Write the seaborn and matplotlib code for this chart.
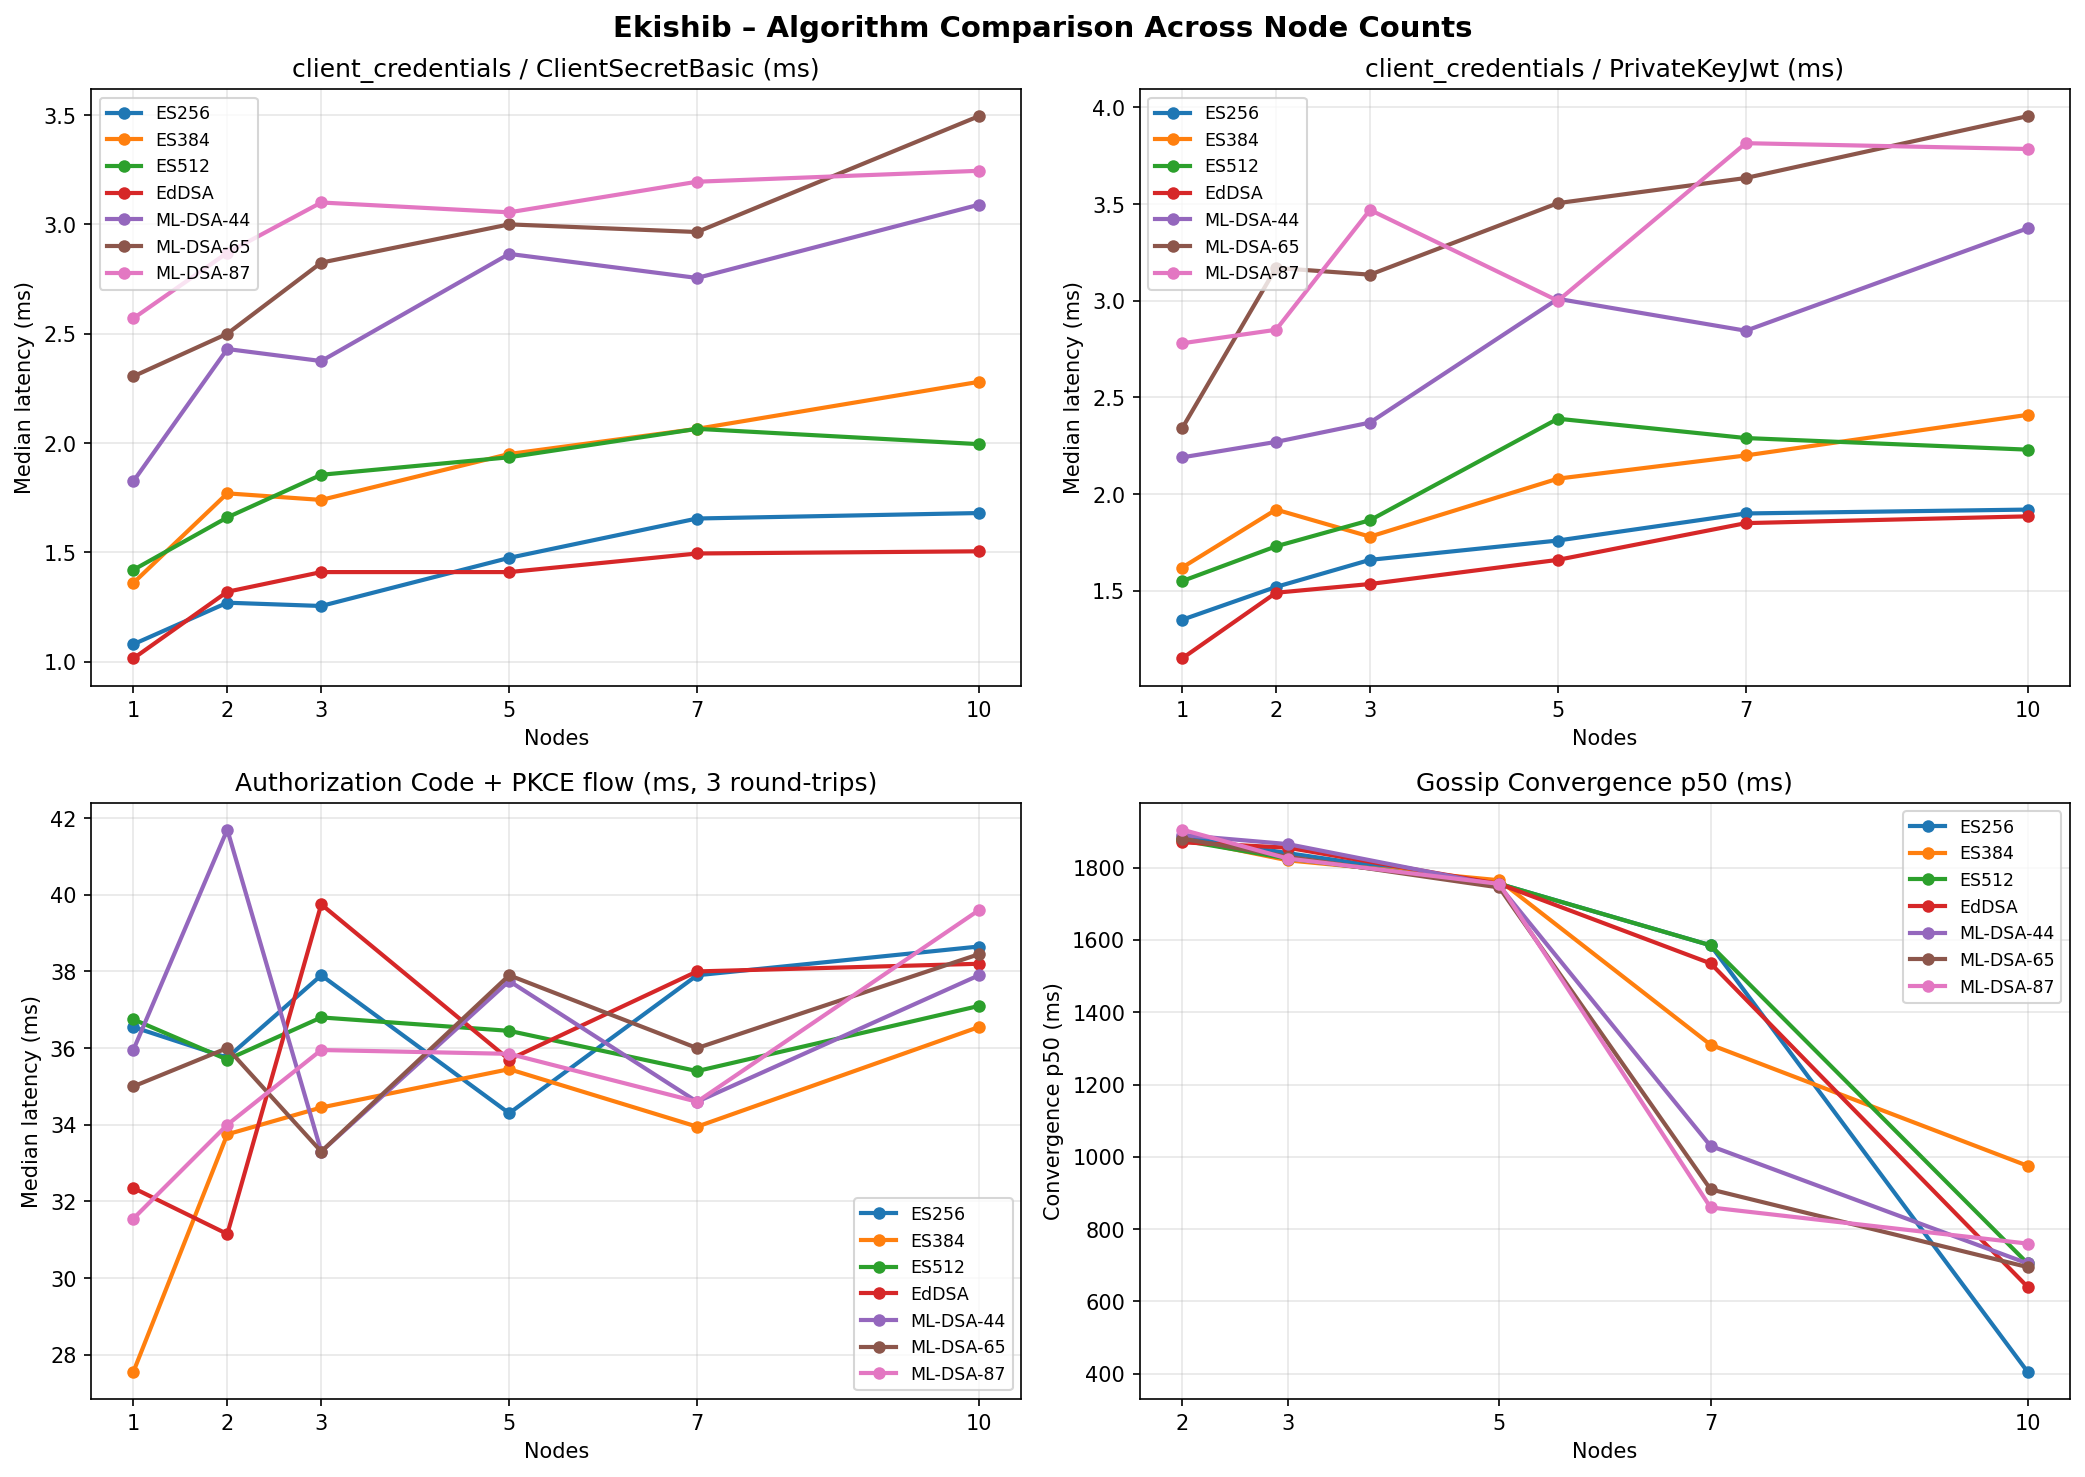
import matplotlib
matplotlib.use("Agg")
import matplotlib.pyplot as plt
import pandas as pd
import seaborn as sns

# 算法与节点数
algorithms = ["ES256", "ES384", "ES512", "EdDSA", "ML-DSA-44", "ML-DSA-65", "ML-DSA-87"]
nodes = [1, 2, 3, 5, 7, 10]
gossip_nodes = [2, 3, 5, 7, 10]

# client_credentials / ClientSecretBasic
csb_values = {
    "ES256": [1.08, 1.27, 1.255, 1.475, 1.655, 1.68],
    "ES384": [1.36, 1.77, 1.74, 1.95, 2.065, 2.28],
    "ES512": [1.42, 1.66, 1.855, 1.935, 2.065, 1.995],
    "EdDSA": [1.015, 1.32, 1.41, 1.41, 1.495, 1.505],
    "ML-DSA-44": [1.825, 2.43, 2.375, 2.865, 2.755, 3.09],
    "ML-DSA-65": [2.305, 2.50, 2.825, 3.00, 2.965, 3.495],
    "ML-DSA-87": [2.57, 2.87, 3.10, 3.055, 3.195, 3.245],
}

# client_credentials / PrivateKeyJwt
pkj_values = {
    "ES256": [1.35, 1.52, 1.66, 1.76, 1.90, 1.92],
    "ES384": [1.62, 1.92, 1.78, 2.08, 2.20, 2.41],
    "ES512": [1.55, 1.73, 1.865, 2.39, 2.29, 2.23],
    "EdDSA": [1.15, 1.49, 1.535, 1.66, 1.85, 1.885],
    "ML-DSA-44": [2.19, 2.27, 2.37, 3.01, 2.845, 3.375],
    "ML-DSA-65": [2.34, 3.17, 3.135, 3.505, 3.635, 3.955],
    "ML-DSA-87": [2.78, 2.85, 3.47, 3.00, 3.815, 3.785],
}

# Authorization Code + PKCE
pkce_values = {
    "ES256": [36.55, 35.75, 37.9, 34.3, 37.9, 38.65],
    "ES384": [27.55, 33.75, 34.45, 35.45, 33.95, 36.55],
    "ES512": [36.75, 35.7, 36.8, 36.45, 35.4, 37.1],
    "EdDSA": [32.35, 31.15, 39.75, 35.7, 38.0, 38.2],
    "ML-DSA-44": [35.95, 41.7, 33.3, 37.75, 34.6, 37.9],
    "ML-DSA-65": [35.0, 36.0, 33.3, 37.9, 36.0, 38.45],
    "ML-DSA-87": [31.55, 34.0, 35.95, 35.85, 34.6, 39.6],
}

# Gossip convergence p50
gossip_values = {
    "ES256": [1885, 1840, 1755, 1585, 405],
    "ES384": [1880, 1820, 1765, 1310, 975],
    "ES512": [1875, 1825, 1755, 1585, 705],
    "EdDSA": [1870, 1855, 1755, 1535, 640],
    "ML-DSA-44": [1890, 1865, 1750, 1030, 705],
    "ML-DSA-65": [1880, 1830, 1745, 910, 695],
    "ML-DSA-87": [1905, 1825, 1755, 860, 760],
}


def to_long(values, xs):
    """转换为长表格式"""
    rows = []
    for alg in algorithms:
        for x, v in zip(xs, values[alg]):
            rows.append({"Nodes": x, "value": v, "Algorithm": alg})
    return pd.DataFrame(rows)


panels = [
    (csb_values, nodes, "client_credentials / ClientSecretBasic (ms)", "Median latency (ms)", "upper left"),
    (pkj_values, nodes, "client_credentials / PrivateKeyJwt (ms)", "Median latency (ms)", "upper left"),
    (pkce_values, nodes, "Authorization Code + PKCE flow (ms, 3 round-trips)", "Median latency (ms)", "lower right"),
    (gossip_values, gossip_nodes, "Gossip Convergence p50 (ms)", "Convergence p50 (ms)", "upper right"),
]

palette = sns.color_palette("tab10", len(algorithms))

fig, axes = plt.subplots(2, 2, figsize=(14, 10), dpi=150)
for ax, (values, xs, title, ylabel, loc) in zip(axes.flat, panels):
    df = to_long(values, xs)
    sns.lineplot(data=df, x="Nodes", y="value", hue="Algorithm", hue_order=algorithms,
                 palette=palette, marker="o", markersize=6, markeredgewidth=0,
                 linewidth=2, ax=ax)
    ax.set_title(title, fontsize=12)
    ax.set_xlabel("Nodes")
    ax.set_ylabel(ylabel)
    ax.set_xticks(xs)
    ax.grid(True, alpha=0.3)
    ax.legend(fontsize="small", loc=loc)

fig.suptitle("Ekishib – Algorithm Comparison Across Node Counts", fontsize=14, fontweight="bold")
fig.tight_layout()
fig.savefig("out.png", dpi=150, bbox_inches="tight")
